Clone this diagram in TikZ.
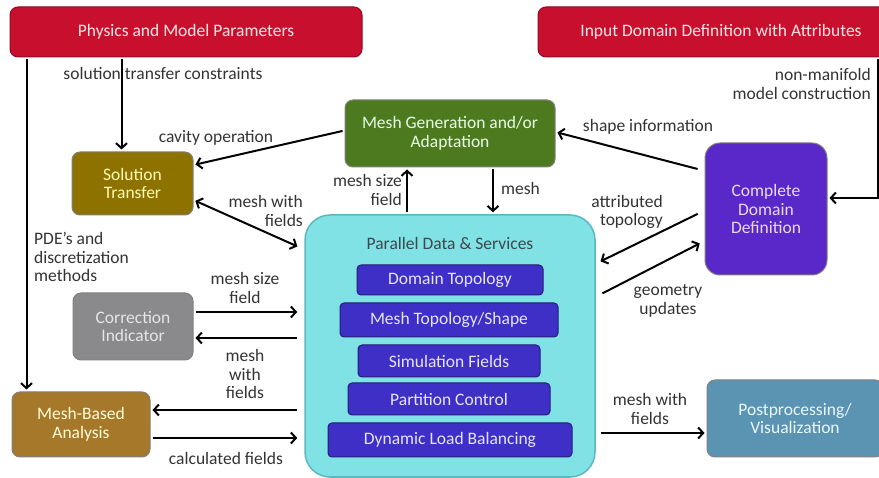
\documentclass[tikz,border=0pt]{standalone}
\usepackage{fontspec}
\setmainfont{Carlito}
\usepackage{xcolor}
\usepackage{tikz}
\usetikzlibrary{calc}
\usetikzlibrary{arrows.meta}
\usetikzlibrary{positioning}
\definecolor{physred}{HTML}{C8102E}
\definecolor{soltrgold}{HTML}{8E7200}
\definecolor{meshgreen}{HTML}{4E7A1F}
\definecolor{cddpurple}{HTML}{5A28C8}
\definecolor{pdscyan}{HTML}{80E2E4}
\definecolor{pdsedge}{HTML}{5CB8C0}
\definecolor{layerblue}{HTML}{3E2FC6}
\definecolor{corrgray}{HTML}{8A8A8C}
\definecolor{mbabrown}{HTML}{A5782A}
\definecolor{poststeel}{HTML}{5B93B3}
\definecolor{labelgray}{HTML}{333333}
\tikzstyle{redbox}=[draw=physred!70!black, line width=1pt, fill=physred, text=red!10!white, shape=rectangle, rounded corners=8pt, minimum height=50pt, inner sep=2pt]
\tikzstyle{toolbox}=[draw=black!50, line width=1pt, shape=rectangle, rounded corners=8pt, align=center, inner sep=2pt]
\tikzstyle{layerbox}=[draw=layerblue!60!black, line width=1pt, fill=layerblue, text=blue!10!white, shape=rectangle, rounded corners=4pt, inner sep=2pt]
\tikzstyle{lbl}=[text=labelgray, inner sep=0pt, align=center]
\tikzstyle{arr}=[-{Straight Barb[length=5pt, width=11pt, line width=2pt]}, line width=2pt, color=black, shorten >=2pt, shorten <=2pt]

\begin{document}
\begin{tikzpicture}[x=1pt, y=-1pt, font=\fontsize{17.5}{18.5}\selectfont]
\useasboundingbox (0,0) rectangle (879,478);
\node [redbox, minimum width=352pt] (phys) at (186,32) {Physics and Model Parameters};
\node [redbox, minimum width=366pt] (input) at (721,32) {Input Domain Definition with Attributes};
\node [toolbox, fill=soltrgold, text=yellow!30!white, minimum width=121pt, minimum height=63pt] (soltr) at (132.5,183.5) {Solution\\Transfer};
\node [toolbox, fill=meshgreen, text=green!10!white, minimum width=210pt, minimum height=67pt] (meshgen) at (450,133.5) {Mesh Generation and/or\\Adaptation};
\node [toolbox, fill=cddpurple, text=violet!15!white, rounded corners=15pt, minimum width=122pt, minimum height=132pt] (cdd) at (766,209) {Complete\\Domain\\Definition};
\node [toolbox, fill=corrgray, text=black!10, minimum width=120pt, minimum height=67pt] (corr) at (133,326.5) {Correction\\Indicator};
\node [toolbox, fill=mbabrown, text=yellow!15!white, minimum width=138pt, minimum height=65pt] (mba) at (81,424.5) {Mesh-Based\\Analysis};
\node [toolbox, fill=poststeel, text=cyan!8!white, minimum width=176pt, minimum height=77pt] (post) at (795,418.5) {Postprocessing/\\Visualization};

\node [draw=pdsedge, line width=1.5pt, fill=pdscyan, shape=rectangle, rounded corners=25pt, minimum width=290pt, minimum height=262pt] (pds) at (450,346) {};
\node [text=cyan!20!black, inner sep=0pt] (pdstitle) at (450,243) {Parallel Data \& Services};
\node [layerbox, minimum width=186pt, minimum height=30pt] (domtop) at (450,280) {Domain Topology};
\node [layerbox, minimum width=218pt, minimum height=34pt] (meshtop) at (449,320) {Mesh Topology/Shape};
\node [layerbox, minimum width=182pt, minimum height=32pt] (simfld) at (449,361) {Simulation Fields};
\node [layerbox, minimum width=202pt, minimum height=32pt] (partctl) at (449,399) {Partition Control};
\node [layerbox, minimum width=244pt, minimum height=34pt] (dynlb) at (450,440) {Dynamic Load Balancing};

\node [lbl] (stclabel) at (163,73) {solution transfer constraints};
\node [lbl, align=left, anchor=west] (pdelabel) at (34,257) {PDE's and\\discretization\\methods};
\node [lbl] (cavlabel) at (216,138) {cavity operation};
\node [lbl, align=right, anchor=east] (mwf1label) at (303,211) {mesh with\\fields};
\node [lbl, align=right, anchor=east] (msf1label) at (402,190) {mesh size\\field};
\node [lbl, anchor=west] (meshlabel) at (501,188) {mesh};
\node [lbl] (shapelabel) at (648,127) {shape information};
\node [lbl, align=right, anchor=east] (nmlabel) at (871,84) {non-manifold\\model construction};
\node [lbl, align=right, anchor=east] (attrlabel) at (663,212) {attributed\\topology};
\node [lbl] (geolabel) at (668,301) {geometry\\updates};
\node [lbl] (msf2label) at (245,288) {mesh size\\field};
\node [lbl] (mwf2label) at (245,374) {mesh\\with\\fields};
\node [lbl] (calclabel) at (226,458) {calculated fields};
\node [lbl] (mwf3label) at (650,409) {mesh with\\fields};

\draw[arr] ([xshift=17pt]phys.south west) -- ([xshift=15pt]mba.north west);
\draw[arr] ([xshift=112pt]phys.south west) coordinate (stc) -- (stc |- soltr.north);
\draw[arr] ([yshift=3pt]meshgen.west) -- ([yshift=18.5pt]soltr.east);
\draw[{Straight Barb[length=5pt, width=11pt, line width=2pt]}-{Straight Barb[length=5pt, width=11pt, line width=2pt]}, line width=2pt, shorten >=2pt, shorten <=2pt] ([yshift=-16.5pt]soltr.east) -- ([xshift=-5pt, yshift=-33pt]pds.north west);
\draw[arr] ([xshift=-43pt]pds.north) -- ([xshift=-43pt]meshgen.south);
\draw[arr] ([xshift=43pt]meshgen.south) -- ([xshift=43pt]pds.north);
\draw[arr] ([xshift=-5pt, yshift=-27pt]cdd.north west) -- ([yshift=1.5pt]meshgen.east);
\draw[arr] ([xshift=-27pt]input.south east) |- ([yshift=11pt]cdd.east);
\draw[arr] ([xshift=-5pt, yshift=-4pt]cdd.west) -- ([xshift=3pt, yshift=-48pt]pds.north east);
\draw[arr] ([xshift=5pt, yshift=-80pt]pds.north east) -- ([xshift=-3pt, yshift=-100pt]cdd.north west);
\draw[arr] ([yshift=14.5pt]corr.east) coordinate (ci1) -- ([xshift=-5pt]ci1 -| pds.west);
\draw[arr] ([yshift=-11.5pt]corr.east) coordinate (ci2) ([xshift=-5pt]ci2 -| pds.west) -- (ci2);
\draw[arr] ([yshift=14.5pt]mba.east) coordinate (ma1) ([xshift=-5pt]ma1 -| pds.west) -- (ma1);
\draw[arr] ([yshift=-13.5pt]mba.east) coordinate (ma2) -- ([xshift=-5pt]ma2 -| pds.west);
\draw[arr] ([yshift=-14.5pt]post.west) coordinate (pp1) ([xshift=3pt]pp1 -| pds.east) -- (pp1);
\end{tikzpicture}
\end{document}
